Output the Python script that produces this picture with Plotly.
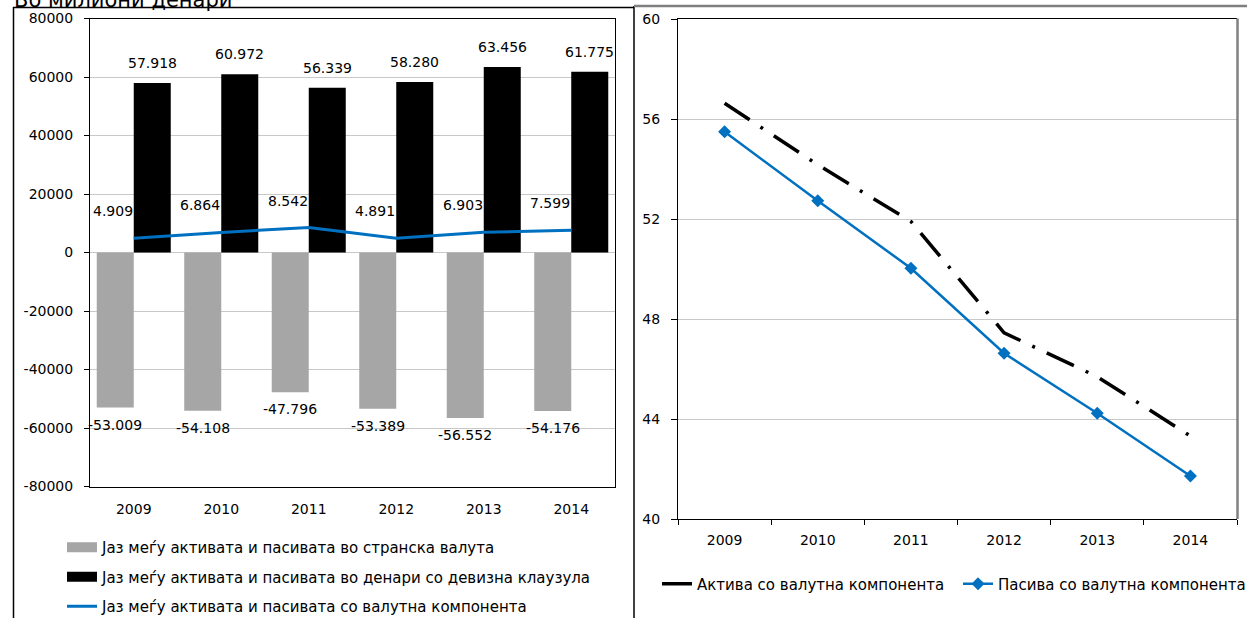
import plotly.graph_objects as go

# ---------------- data ----------------
years = ["2009", "2010", "2011", "2012", "2013", "2014"]
gap_foreign = [-53009, -54108, -47796, -53389, -56552, -54176]
gap_clause = [57918, 60972, 56339, 58280, 63456, 61775]
gap_currency = [4909, 6864, 8542, 4891, 6903, 7599]

assets_fx = [56.63, 54.17, 51.9, 47.45, 45.69, 43.32]
liabilities_fx = [55.49, 52.73, 50.03, 46.63, 44.23, 41.72]

y1_ticks = [-80000, -60000, -40000, -20000, 0, 20000, 40000, 60000, 80000]
y2_ticks = [40, 44, 48, 52, 56, 60]

name_foreign = "Јаз меѓу активата и пасивата во странска валута"
name_clause = "Јаз меѓу активата и пасивата во денари со девизна клаузула"
name_currency = "Јаз меѓу активата и пасивата со валутна компонента"
name_assets = "Актива со валутна компонента"
name_liab = "Пасива со валутна компонента"
title_text = "Во милиони денари"

# ---------------- style ----------------
W, H = 1247, 618
FONT = "DejaVu Sans"
GREY = "#a6a6a6"
BLUE = "#0070c0"
GRID = "#c8c8c8"


def px(x):
    return x / W


def py(y):
    return 1 - y / H


def fmt(v):
    return f"{v:,}".replace(",", ".")


fig = go.Figure()

# left chart: bars
fig.add_trace(go.Bar(x=years, y=gap_foreign, marker=dict(color=GREY, line=dict(width=0)),
                     showlegend=False, xaxis="x", yaxis="y", hoverinfo="x+y"))
fig.add_trace(go.Bar(x=years, y=gap_clause, marker=dict(color="black", line=dict(width=0)),
                     showlegend=False, xaxis="x", yaxis="y", hoverinfo="x+y"))
# legend swatches for bars
fig.add_trace(go.Scatter(x=[None], y=[None], mode="lines", name=name_foreign,
                         line=dict(color=GREY, width=10), legend="legend", legendgroup="a",
                         xaxis="x", yaxis="y"))
fig.add_trace(go.Scatter(x=[None], y=[None], mode="lines", name=name_clause,
                         line=dict(color="black", width=10), legend="legend", legendgroup="b",
                         xaxis="x", yaxis="y"))
fig.add_trace(go.Scatter(x=years, y=gap_currency, mode="lines", name=name_currency,
                         line=dict(color=BLUE, width=3), legend="legend", legendgroup="c",
                         xaxis="x", yaxis="y"))

# right chart: lines
fig.add_trace(go.Scatter(x=years, y=assets_fx, mode="lines", name=name_assets,
                         line=dict(color="black", width=3.5, dash="30px,13px,3px,13px"),
                         legend="legend2", xaxis="x2", yaxis="y2"))
fig.add_trace(go.Scatter(x=years, y=liabilities_fx, mode="lines+markers", name=name_liab,
                         line=dict(color=BLUE, width=2.5),
                         marker=dict(symbol="diamond", size=10, color=BLUE),
                         legend="legend3", xaxis="x2", yaxis="y2"))

LBL = dict(size=14, color="black", family=FONT)
annotations = []
for i, v in enumerate(gap_clause):
    annotations.append(dict(x=i, y=v, xref="x", yref="y", text=fmt(v), showarrow=False,
                            xshift=18.5, yshift=20, yanchor="middle", font=LBL))
for i, v in enumerate(gap_foreign):
    annotations.append(dict(x=i, y=v, xref="x", yref="y", text=fmt(v), showarrow=False,
                            xshift=-18.5, yshift=-17, yanchor="middle", font=LBL))
for i, v in enumerate(gap_currency):
    annotations.append(dict(x=i, y=v, xref="x", yref="y", text=fmt(v), showarrow=False,
                            xanchor="right", xshift=1, yshift=27, yanchor="middle", font=LBL))
annotations.append(dict(x=px(12), y=py(14), xref="paper", yref="paper", text=title_text,
                        showarrow=False, xanchor="left", yanchor="bottom",
                        font=dict(size=21, color="black", family=FONT)))

shapes = [
    # left panel frame
    dict(type="line", xref="paper", yref="paper", x0=px(13.5), x1=px(13.5), y0=py(7), y1=py(620),
         line=dict(color="black", width=1.5)),
    dict(type="line", xref="paper", yref="paper", x0=px(13), x1=px(634), y0=py(7.5), y1=py(7.5),
         line=dict(color="black", width=1.5)),
    dict(type="line", xref="paper", yref="paper", x0=px(634), x1=px(634), y0=py(6), y1=py(620),
         line=dict(color="black", width=1.5)),
    # right panel top border
    dict(type="line", xref="paper", yref="paper", x0=px(634), x1=px(1250), y0=py(6), y1=py(6),
         line=dict(color="#7f7f7f", width=2.5)),
    # right plot right edge
    dict(type="line", xref="paper", yref="paper", x0=px(1237.5), x1=px(1237.5), y0=py(18.5), y1=py(519),
         line=dict(color="#808080", width=2.5)),
]

fig.update_layout(
    width=W, height=H,
    margin=dict(l=0, r=0, t=0, b=0, autoexpand=False),
    paper_bgcolor="white", plot_bgcolor="white",
    font=dict(family=FONT, size=14, color="black"),
    barmode="group", bargap=0.154, bargroupgap=0,
    xaxis=dict(domain=[px(90), px(615)], anchor="y", type="category",
               range=[-0.5, len(years) - 0.5], autorange=False,
               showline=True, linecolor="black", linewidth=1, mirror=True,
               ticks="", showgrid=False, ticklabelstandoff=10, automargin=False,
               tickfont=dict(size=14)),
    yaxis=dict(domain=[py(486.5), py(18.5)], anchor="x", range=[-80000, 80000], autorange=False,
               tickvals=y1_ticks, ticktext=[str(t) for t in y1_ticks],
               showgrid=True, gridcolor=GRID, gridwidth=1, zeroline=False,
               showline=True, linecolor="black", linewidth=1, mirror=True,
               ticks="outside", ticklen=5, tickcolor="black", ticklabelstandoff=8,
               automargin=False, tickfont=dict(size=14)),
    xaxis2=dict(domain=[px(678), px(1237)], anchor="y2", type="category",
                range=[-0.5, len(years) - 0.5], autorange=False,
                showline=True, linecolor="black", linewidth=1, mirror=True,
                ticks="outside", tickson="boundaries", ticklen=5, tickcolor="black",
                showgrid=False, ticklabelstandoff=8, automargin=False, tickfont=dict(size=14)),
    yaxis2=dict(domain=[py(519), py(19)], anchor="x2", range=[40, 60], autorange=False,
                tickvals=y2_ticks, ticktext=[str(t) for t in y2_ticks],
                showgrid=True, gridcolor=GRID, gridwidth=1, zeroline=False,
                showline=True, linecolor="black", linewidth=1, mirror=False,
                ticks="outside", ticklen=6, tickcolor="black", ticklabelstandoff=8,
                automargin=False, tickfont=dict(size=14)),
    legend=dict(x=px(62), y=py(531), xanchor="left", yanchor="top",
                orientation="v", traceorder="grouped", tracegroupgap=7,
                bgcolor="rgba(0,0,0,0)", font=dict(size=15, family=FONT)),
    legend2=dict(x=px(657), y=py(584), xanchor="left", yanchor="middle",
                 orientation="h", bgcolor="rgba(0,0,0,0)", font=dict(size=15, family=FONT)),
    legend3=dict(x=px(958), y=py(584), xanchor="left", yanchor="middle",
                 orientation="h", bgcolor="rgba(0,0,0,0)", font=dict(size=15, family=FONT)),
    annotations=annotations,
    shapes=shapes,
)

fig.write_html(
    "out.html",
    config={"displayModeBar": False},
    post_script="document.body.style.margin='0';document.body.style.overflow='hidden';",
)
